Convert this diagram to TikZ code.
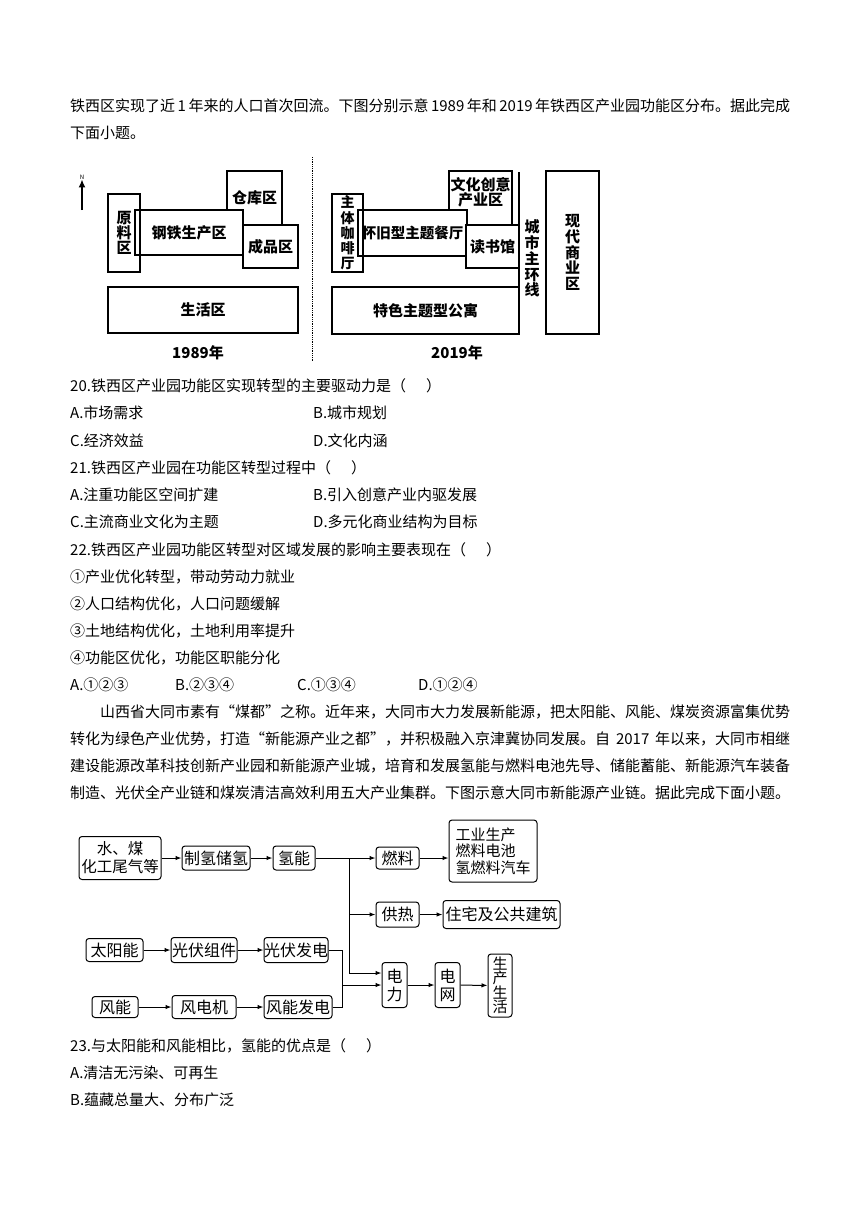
\documentclass[tikz,border=0pt]{standalone}
\usepackage{fontspec}
\setmainfont{Noto Sans CJK SC}
\usetikzlibrary{arrows.meta}

% stretchable glue between CJK characters, for justified lines
\XeTeXinterchartokenstate=1
\newcommand\cjkgap{\hskip0pt plus 3pt minus 1pt\relax}
\XeTeXinterchartoks 1 1 = {\cjkgap}
\XeTeXinterchartoks 1 2 = {\cjkgap}
\XeTeXinterchartoks 1 3 = {\cjkgap}
\XeTeXinterchartoks 2 1 = {\cjkgap}
\XeTeXinterchartoks 3 1 = {\cjkgap}
\XeTeXinterchartoks 3 2 = {\cjkgap}
\XeTeXinterchartoks 3 3 = {\cjkgap}

\newcommand\fs[2]{\fontsize{#1}{#2}\selectfont}

\tikzset{
  zone/.style={draw,line width=1.4pt,inner sep=0pt,align=center,font=\bfseries\fs{15}{15}},
  box/.style={draw,rounded corners=3pt,line width=1pt,inner sep=0pt,align=center,font=\fs{16}{18}},
  txt/.style={anchor=west,inner sep=0pt,font=\fs{15}{18}},
  >={Latex[length=6pt,width=4.5pt]}
}

\begin{document}
\begin{tikzpicture}[x=1pt,y=-1pt]
  \useasboundingbox (0,0) rectangle (860,1216);
  \fill[white] (0,0) rectangle (860,1216);

  % intro text
  \node[txt] (i1) at (70,106) {\makebox[720pt][s]{铁西区实现了近 1 年来的人口首次回流。下图分别示意 1989 年和 2019 年铁西区产业园功能区分布。据此完成}};
  \node[txt] (i2) at (70,133) {下面小题。};

  % 1989
  \node[font=\fs{6}{6},inner sep=0pt] (nn) at (82,177) {N};
  \coordinate (ns) at (82,210);
  \draw[-{Latex[length=8pt,width=7pt]},line width=1.6pt] (ns) -- (nn.south);
  \node[zone,minimum width=55pt,minimum height=54pt] (ck) at (254.5,198) {仓库区};
  \node[zone,fill=white,minimum width=108pt,minimum height=45pt] (gt) at (189,232.5) {钢铁生产区};
  \node[zone,minimum width=32pt,minimum height=78pt] (yl) at (124,233) {原\\料\\区};
  \node[zone,minimum width=55pt,minimum height=43pt] (cp) at (270.5,246.5) {成品区};
  \node[zone,minimum width=190pt,minimum height=46pt] (sh) at (203,310) {生活区};
  \node[font=\bfseries\fs{15}{15},inner sep=0pt] (y1) at (198,353) {1989年};

  \draw[densely dotted,line width=0.8pt] (312,157) -- (312,362);

  % 2019
  \node[zone,minimum width=63pt,minimum height=54pt] (wh) at (480.5,198) {};
  \node[font=\bfseries\fs{15}{15},align=center,inner sep=0pt] (whl) at (480.5,192.5) {文化创意\\产业区};
  \node[zone,fill=white,minimum width=109pt,minimum height=46pt,font=\bfseries\fs{14.5}{15}] (ct) at (412.5,233) {怀旧型主题餐厅};
  \node[zone,fill=white,minimum width=53pt,minimum height=43pt] (ds) at (492.5,246.5) {读书馆};
  \node[zone,minimum width=31pt,minimum height=78pt,font=\bfseries\fs{14}{15.3}] (kf) at (347.5,233) {主\\体\\咖\\啡\\厅};
  \node[zone,minimum width=187pt,minimum height=47pt] (gy) at (425.5,310.5) {特色主题型公寓};
  \node[zone,minimum width=53pt,minimum height=163pt,font=\bfseries\fs{15}{15.75}] (sy) at (572.5,252.5) {现\\代\\商\\业\\区};
  \node[font=\bfseries\fs{15}{15.75},align=center,inner sep=0pt] (hx) at (532,258.5) {城\\市\\主\\环\\线};
  \coordinate (r1) at (519,172);
  \coordinate (r2) at (519,287);
  \draw[line width=1.4pt] (r1) -- (r2);
  \node[font=\bfseries\fs{15}{15},inner sep=0pt] (y2) at (457,353) {2019年};

  % questions 20-22
  \node[txt] (q20) at (70,386) {20.铁西区产业园功能区实现转型的主要驱动力是（\hspace{20pt}）};
  \node[txt] (a20) at (70,413) {A.市场需求};
  \node[txt] (b20) at (313,413) {B.城市规划};
  \node[txt] (c20) at (70,441) {C.经济效益};
  \node[txt] (d20) at (313,441) {D.文化内涵};
  \node[txt] (q21) at (70,468) {21.铁西区产业园在功能区转型过程中（\hspace{20pt}）};
  \node[txt] (a21) at (70,495) {A.注重功能区空间扩建};
  \node[txt] (b21) at (313,495) {B.引入创意产业内驱发展};
  \node[txt] (c21) at (70,522) {C.主流商业文化为主题};
  \node[txt] (d21) at (313,522) {D.多元化商业结构为目标};
  \node[txt] (q22) at (70,550) {22.铁西区产业园功能区转型对区域发展的影响主要表现在（\hspace{20pt}）};
  \node[txt] (s1) at (70,577) {①产业优化转型，带动劳动力就业};
  \node[txt] (s2) at (70,604) {②人口结构优化，人口问题缓解};
  \node[txt] (s3) at (70,631) {③土地结构优化，土地利用率提升};
  \node[txt] (s4) at (70,658) {④功能区优化，功能区职能分化};
  \node[txt] (a22) at (70,685) {A.①②③};
  \node[txt] (b22) at (175,685) {B.②③④};
  \node[txt] (c22) at (297,685) {C.①③④};
  \node[txt] (d22) at (418,685) {D.①②④};

  % second text
  \node[txt] (p1) at (100,712) {\makebox[690pt][s]{山西省大同市素有“煤都”之称。近年来，大同市大力发展新能源，把太阳能、风能、煤炭资源富集优势}};
  \node[txt] (p2) at (70,739) {\makebox[720pt][s]{转化为绿色产业优势，打造“新能源产业之都”，并积极融入京津冀协同发展。自 2017 年以来，大同市相继}};
  \node[txt] (p3) at (70,766) {\makebox[720pt][s]{建设能源改革科技创新产业园和新能源产业城，培育和发展氢能与燃料电池先导、储能蓄能、新能源汽车装备}};
  \node[txt] (p4) at (70,793) {\makebox[720pt][s]{制造、光伏全产业链和煤炭清洁高效利用五大产业集群。下图示意大同市新能源产业链。据此完成下面小题。}};

  % energy chain
  \node[box,minimum width=82pt,minimum height=43pt,font=\fs{15.5}{18}] (src) at (120,858) {水、煤\\化工尾气等};
  \node[box,minimum width=68pt,minimum height=24pt] (zq) at (216,858) {制氢储氢};
  \node[box,minimum width=42pt,minimum height=24pt] (qn) at (294,858) {氢能};
  \node[box,minimum width=43pt,minimum height=22pt] (rl) at (397.5,858) {燃料};
  \node[box,minimum width=88pt,minimum height=62pt,align=left,font=\fs{15}{16.5}] (gc) at (493,851) {工业生产\\燃料电池\\氢燃料汽车};
  \node[box,minimum width=43pt,minimum height=25pt] (gr) at (397.5,914.5) {供热};
  \node[box,minimum width=117pt,minimum height=28pt] (zz) at (501.5,914.5) {住宅及公共建筑};
  \node[box,minimum width=57pt,minimum height=23pt] (ty) at (114.5,950) {太阳能};
  \node[box,minimum width=66pt,minimum height=25pt] (gf) at (204,950) {光伏组件};
  \node[box,minimum width=64pt,minimum height=25pt] (fd) at (296,950) {光伏发电};
  \node[box,minimum width=25pt,minimum height=45pt] (dl) at (394.5,985) {电\\力};
  \node[box,minimum width=25pt,minimum height=45pt] (dw) at (447.5,985) {电\\网};
  \node[box,minimum width=24pt,minimum height=63pt,font=\fs{15}{14.5}] (ss) at (500,985.5) {生\\产\\生\\活};
  \node[box,minimum width=46pt,minimum height=21pt] (fn) at (115,1007) {风能};
  \node[box,minimum width=64pt,minimum height=23pt] (fj) at (204,1007) {风电机};
  \node[box,minimum width=68pt,minimum height=23pt] (fx) at (298,1007) {风能发电};

  \coordinate (h1) at (349,858);
  \coordinate (m1) at (342,985);

  \foreach \from/\to in {src/zq,zq/qn,gr/zz,ty/gf,gf/fd,fn/fj,fj/fx,dl/dw,dw/ss}
    \draw[->,line width=1pt] (\from) -- (\to);
  \draw[line width=1pt] (qn) -- (h1);
  \draw[->,line width=1pt] (h1) -- (rl);
  \draw[->,line width=1pt] (rl) -- (rl -| gc.west);
  \draw[->,line width=1pt] (h1) |- (gr);
  \draw[->,line width=1pt] (h1) |- ([yshift=12pt]dl.west);
  \draw[line width=1pt] (fd) -| (m1);
  \draw[line width=1pt] (fx) -| (m1);
  \draw[->,line width=1pt] (m1) -- (dl);

  % question 23
  \node[txt] (q23) at (70,1046) {23.与太阳能和风能相比，氢能的优点是（\hspace{20pt}）};
  \node[txt] (a23) at (70,1073) {A.清洁无污染、可再生};
  \node[txt] (b23) at (70,1100) {B.蕴藏总量大、分布广泛};

\end{tikzpicture}
\end{document}
